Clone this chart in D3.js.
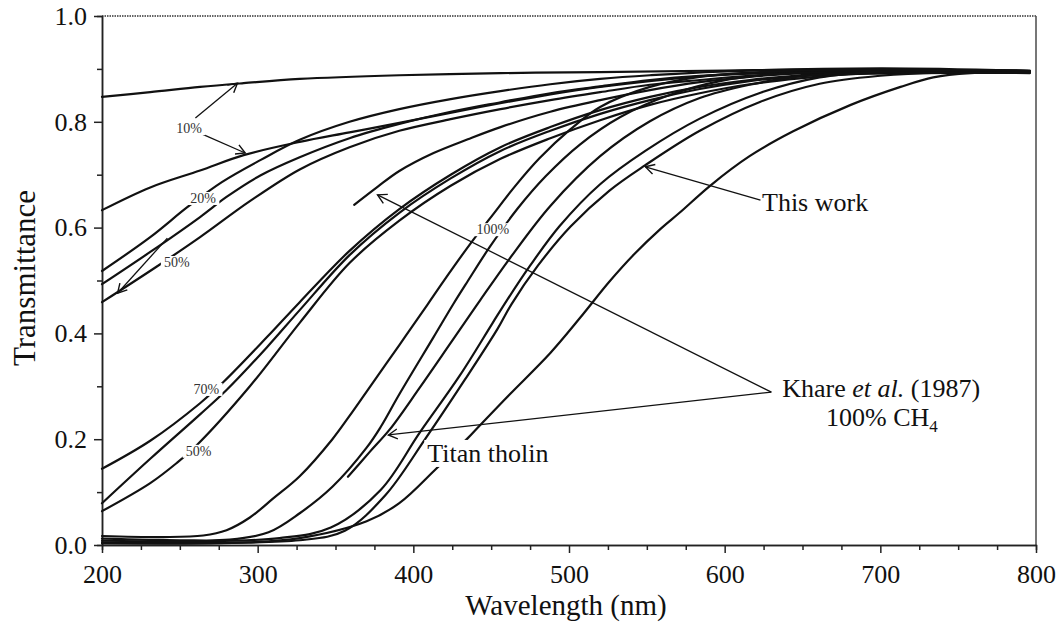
<!DOCTYPE html>
<html>
<head>
<meta charset="utf-8">
<script src="https://cdn.jsdelivr.net/npm/d3@7"></script>
<style>
  body { margin: 0; background: #fff; }
  svg { display: block; font-family: "Liberation Serif", "Times New Roman", serif; }
  .curve { fill: none; stroke: #111; stroke-width: 2.2; stroke-linejoin: round; stroke-linecap: round; }
  .pointer { fill: none; stroke: #111; stroke-width: 1.3; }
  .axis path, .axis line { stroke: #222; stroke-width: 1.5; }
  .axis text { font-family: "Liberation Serif", "Times New Roman", serif; font-size: 26px; fill: #111; }
  .tag { font-size: 14px; fill: #333; }
  .note { font-size: 26px; fill: #111; }
  .title { font-size: 29px; fill: #111; }
</style>
</head>
<body>
<div id="chart"></div>
<script>
// wavelength (nm) vs transmittance
const tenPctUpper = [[200,0.847],[231,0.856],[263,0.866],[291,0.873],[327,0.881],[391,0.888],[456,0.892],[520,0.894],[600,0.897],[700,0.899],[796,0.895]];
const tenPctLower = [[200,0.633],[231,0.676],[263,0.708],[291,0.737],[327,0.762],[359,0.780],[391,0.798],[443,0.828],[488,0.852],[520,0.866],[584,0.886],[629,0.893],[700,0.895],[796,0.894]];
const twentyPctA = [[200,0.518],[231,0.582],[255,0.639],[277,0.686],[302,0.728],[327,0.766],[359,0.800],[391,0.824],[424,0.843],[456,0.858],[488,0.871],[520,0.881],[552,0.888],[597,0.895],[700,0.901],[796,0.896]];
const twentyPctB = [[200,0.493],[231,0.554],[263,0.620],[280,0.658],[302,0.699],[327,0.733],[359,0.769],[391,0.796],[424,0.819],[456,0.837],[488,0.854],[520,0.867],[552,0.879],[584,0.887],[623,0.892],[700,0.893],[796,0.893]];
const fiftyPctUpper = [[200,0.459],[235,0.526],[263,0.582],[295,0.650],[327,0.710],[359,0.752],[391,0.783],[424,0.805],[456,0.824],[488,0.841],[520,0.856],[552,0.870],[584,0.879],[616,0.887],[648,0.892],[681,0.894],[796,0.894]];
const seventyPctA = [[200,0.144],[231,0.197],[263,0.268],[278,0.308],[306,0.393],[327,0.459],[359,0.556],[391,0.635],[424,0.700],[456,0.752],[488,0.790],[520,0.822],[552,0.847],[584,0.866],[616,0.879],[648,0.888],[687,0.896],[796,0.896]];
const seventyPctB = [[200,0.079],[231,0.163],[263,0.247],[280,0.293],[306,0.374],[327,0.444],[359,0.548],[391,0.628],[424,0.693],[456,0.745],[488,0.783],[520,0.815],[552,0.841],[584,0.862],[616,0.877],[648,0.886],[693,0.891],[796,0.893]];
const fiftyPctLower = [[200,0.064],[231,0.117],[248,0.155],[261,0.189],[295,0.300],[327,0.420],[359,0.533],[391,0.613],[424,0.679],[456,0.730],[488,0.769],[520,0.803],[552,0.832],[584,0.854],[616,0.871],[648,0.882],[681,0.890],[713,0.894],[796,0.895]];
const khareUpper = [[362,0.643],[377,0.677],[391,0.707],[413,0.741],[435,0.767],[456,0.790],[488,0.819],[520,0.841],[552,0.860],[584,0.875],[616,0.885],[648,0.892],[681,0.896],[796,0.896]];
const hundredPctA = [[200,0.017],[240,0.015],[265,0.018],[280,0.028],[295,0.052],[310,0.088],[327,0.130],[348,0.200],[359,0.244],[370,0.290],[391,0.378],[409,0.454],[419,0.497],[438,0.575],[451,0.624],[465,0.677],[481,0.731],[501,0.786],[520,0.828],[552,0.866],[584,0.885],[623,0.894],[700,0.898],[796,0.894]];
const hundredPctB = [[200,0.012],[250,0.009],[282,0.010],[307,0.024],[327,0.060],[348,0.110],[370,0.184],[379,0.223],[391,0.285],[413,0.393],[426,0.457],[435,0.499],[449,0.563],[467,0.636],[485,0.697],[507,0.757],[533,0.809],[565,0.851],[597,0.877],[636,0.891],[700,0.894],[796,0.895]];
const khareTholin = [[358,0.129],[372,0.176],[385,0.219],[404,0.297],[424,0.382],[443,0.463],[462,0.542],[488,0.641],[520,0.735],[552,0.801],[584,0.845],[616,0.870],[648,0.886],[687,0.893],[796,0.893]];
const hundredPctC = [[200,0.008],[260,0.007],[314,0.013],[347,0.033],[379,0.104],[404,0.212],[430,0.321],[451,0.420],[460,0.462],[475,0.528],[494,0.603],[520,0.682],[549,0.745],[584,0.806],[623,0.855],[661,0.884],[700,0.895],[796,0.897]];
const hundredPctD = [[200,0.005],[327,0.009],[356,0.027],[382,0.094],[408,0.202],[433,0.312],[454,0.408],[463,0.455],[480,0.528],[501,0.602],[526,0.670],[549,0.718],[584,0.783],[623,0.838],[661,0.872],[700,0.887],[738,0.893],[796,0.892]];
const hundredPctE = [[200,0.003],[294,0.005],[327,0.013],[370,0.045],[391,0.079],[415,0.145],[435,0.202],[443,0.227],[462,0.285],[488,0.363],[507,0.429],[526,0.498],[542,0.550],[559,0.598],[571,0.628],[591,0.680],[616,0.735],[644,0.782],[681,0.832],[713,0.866],[734,0.884],[758,0.892],[796,0.894]];

const curves = [tenPctUpper, tenPctLower, twentyPctA, twentyPctB, fiftyPctUpper,
  seventyPctA, seventyPctB, fiftyPctLower, khareUpper, hundredPctA, hundredPctB,
  khareTholin, hundredPctC, hundredPctD, hundredPctE];

const majorX = [200, 300, 400, 500, 600, 700, 800];
const minorX = [225, 250, 275, 325, 350, 375, 425, 450, 475, 525, 550, 575, 625, 650, 675, 725, 750, 775];
const majorY = [0, 0.2, 0.4, 0.6, 0.8, 1.0];
const minorY = [0.1, 0.3, 0.5, 0.7, 0.9];

// small percentage tags sitting on the curves
const tags = [
  { text: '10%', at: [256, 0.788] },
  { text: '20%', at: [265, 0.656] },
  { text: '50%', at: [248, 0.535] },
  { text: '70%', at: [267, 0.295] },
  { text: '50%', at: [262, 0.178] },
  { text: '100%', at: [451, 0.597] }
];

const pointers = [
  { from: [260, 0.807], to: [287, 0.873] },
  { from: [264, 0.777], to: [292, 0.741] },
  { from: [242, 0.580], to: [210, 0.476] },
  { from: [623, 0.652], to: [549, 0.715] },
  { from: [630, 0.289], to: [377, 0.662] },
  { from: [630, 0.289], to: [384, 0.208] }
];

const W = 1059, H = 623;
const margin = { top: 16, right: 23, bottom: 78, left: 102 };

const x = d3.scaleLinear().domain([200, 800]).range([margin.left, W - margin.right]);
const y = d3.scaleLinear().domain([0, 1]).range([H - margin.bottom, margin.top]);

const svg = d3.select('#chart').append('svg')
  .attr('width', W)
  .attr('height', H);

svg.append('defs').append('marker')
  .attr('id', 'head')
  .attr('viewBox', '0 -6 10 12')
  .attr('refX', 9)
  .attr('refY', 0)
  .attr('markerUnits', 'userSpaceOnUse')
  .attr('markerWidth', 11)
  .attr('markerHeight', 12)
  .attr('orient', 'auto')
  .append('path')
    .attr('d', 'M0,-5L9,0L0,5')
    .attr('fill', 'none')
    .attr('stroke', '#111')
    .attr('stroke-width', 1.4);

// frame: dotted top, solid right
svg.append('line')
  .attr('x1', x(200)).attr('x2', x(800))
  .attr('y1', y(1)).attr('y2', y(1))
  .attr('stroke', '#333')
  .attr('stroke-width', 1.3)
  .attr('stroke-dasharray', '1.5,1');

svg.append('line')
  .attr('x1', x(800)).attr('x2', x(800))
  .attr('y1', y(1)).attr('y2', y(0))
  .attr('stroke', '#555')
  .attr('stroke-width', 1.6);

// axes
svg.append('g')
  .attr('class', 'axis')
  .attr('transform', `translate(0,${y(0)})`)
  .call(d3.axisBottom(x).tickValues(minorX).tickSize(5).tickFormat(''));

svg.append('g')
  .attr('class', 'axis')
  .attr('transform', `translate(0,${y(0)})`)
  .call(d3.axisBottom(x).tickValues(majorX).tickSize(8).tickSizeOuter(0).tickPadding(12));

svg.append('g')
  .attr('class', 'axis')
  .attr('transform', `translate(${x(200)},0)`)
  .call(d3.axisLeft(y).tickValues(minorY).tickSize(5).tickFormat(''));

svg.append('g')
  .attr('class', 'axis')
  .attr('transform', `translate(${x(200)},0)`)
  .call(d3.axisLeft(y).tickValues(majorY).tickSize(8).tickSizeOuter(0).tickPadding(7)
    .tickFormat(d3.format('.1f')));

svg.append('text')
  .attr('class', 'title')
  .attr('x', (x(200) + x(800)) / 2 - 3)
  .attr('y', 615)
  .attr('text-anchor', 'middle')
  .text('Wavelength (nm)');

svg.append('text')
  .attr('class', 'title')
  .attr('transform', 'translate(35,278) rotate(-90)')
  .attr('text-anchor', 'middle')
  .style('font-size', '31px')
  .text('Transmittance');

// curves
const line = d3.line()
  .x(d => x(d[0]))
  .y(d => y(d[1]))
  .curve(d3.curveCatmullRom.alpha(0.5));

svg.append('g').selectAll('path')
  .data(curves)
  .join('path')
    .attr('class', 'curve')
    .attr('d', line);

// arrows
svg.append('g').selectAll('line')
  .data(pointers)
  .join('line')
    .attr('class', 'pointer')
    .attr('x1', d => x(d.from[0]))
    .attr('y1', d => y(d.from[1]))
    .attr('x2', d => x(d.to[0]))
    .attr('y2', d => y(d.to[1]))
    .attr('marker-end', 'url(#head)');

// labels that cut a gap in the lines underneath
function gapLabel(g, px, py, text, cls, anchor) {
  const t = g.append('text')
    .attr('class', cls)
    .attr('x', px)
    .attr('y', py)
    .attr('text-anchor', anchor)
    .text(text);
  const b = t.node().getBBox();
  g.insert('rect', 'text')
    .attr('x', b.x - 3)
    .attr('y', b.y + 1)
    .attr('width', b.width + 6)
    .attr('height', b.height - 2)
    .attr('fill', '#fff');
}

tags.forEach(function(d) {
  const g = svg.append('g');
  gapLabel(g, x(d.at[0]), y(d.at[1]) + 5, d.text, 'tag', 'middle');
});

gapLabel(svg.append('g'), x(409), y(0.157), 'Titan tholin', 'note', 'start');

svg.append('text')
  .attr('class', 'note')
  .attr('x', x(624))
  .attr('y', y(0.631))
  .text('This work');

const khare = svg.append('text')
  .attr('class', 'note')
  .attr('x', x(637))
  .attr('y', y(0.280));
khare.append('tspan').text('Khare ');
khare.append('tspan').style('font-style', 'italic').text('et al.');
khare.append('tspan').text(' (1987)');

const ch4 = svg.append('text')
  .attr('class', 'note')
  .attr('x', x(701))
  .attr('y', y(0.225))
  .attr('text-anchor', 'middle');
ch4.append('tspan').text('100% CH');
ch4.append('tspan').attr('dy', 6).style('font-size', '17px').text('4');
</script>
</body>
</html>
